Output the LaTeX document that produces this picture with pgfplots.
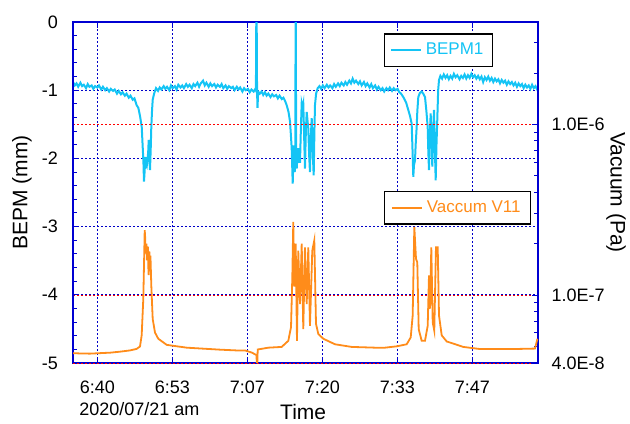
\documentclass[border=0pt]{standalone}
\usepackage{pgfplots}
\pgfplotsset{compat=1.18}
\usepackage{fontspec}
\setmainfont{Liberation Sans}
\definecolor{frameblue}{RGB}{0,0,210}
\definecolor{gridblue}{RGB}{0,0,200}
\definecolor{gridred}{RGB}{255,0,0}
\definecolor{bepm}{RGB}{20,196,245}
\definecolor{vac}{RGB}{255,140,26}

\pgfplotstableread{
t b
-4.32 -0.88
-4.0 -0.93
-3.7 -0.90
-3.4 -0.95
-3.0 -0.89
-2.7 -0.94
-2.4 -0.92
-2.0 -0.97
-1.7 -0.91
-1.4 -0.95
-1.0 -0.93
-0.7 -0.98
-0.4 -0.94
0.0 -0.96
0.3 -0.93
0.7 -0.99
1.0 -0.95
1.4 -1.00
1.7 -0.97
2.1 -1.02
2.4 -0.98
2.8 -1.01
3.1 -0.99
3.5 -1.05
3.8 -1.01
4.2 -1.06
4.5 -1.03
4.9 -1.08
5.2 -1.05
5.6 -1.11
5.9 -1.08
6.3 -1.14
6.6 -1.12
7.0 -1.22
7.3 -1.26
7.6 -1.38
7.9 -1.54
8.07 -1.83
8.2 -2.05
8.3 -2.34
8.42 -2.18
8.53 -1.98
8.65 -2.10
8.78 -2.12
8.95 -2.00
9.05 -1.90
9.14 -1.73
9.25 -2.00
9.37 -2.17
9.5 -1.85
9.6 -1.54
9.73 -1.30
9.85 -1.14
10.1 -1.05
10.44 -0.97
10.8 -1.01
11.1 -0.96
11.4 -0.99
11.8 -0.94
12.1 -0.98
12.4 -0.95
12.8 -1.00
13.1 -0.93
13.4 -0.97
13.8 -0.94
14.1 -0.99
14.4 -0.92
14.8 -0.96
15.1 -0.93
15.4 -0.97
15.8 -0.91
16.1 -0.95
16.4 -0.92
16.8 -0.97
17.1 -0.91
17.4 -0.94
17.8 -0.89
18.1 -0.95
18.4 -0.90
18.8 -0.86
19.1 -0.93
19.4 -0.89
19.8 -0.95
20.1 -0.90
20.4 -0.94
20.8 -0.91
21.1 -0.96
21.4 -0.92
21.8 -0.95
22.1 -0.91
22.4 -0.97
22.8 -0.93
23.1 -0.98
23.4 -0.94
23.8 -0.97
24.1 -0.95
24.4 -1.00
24.8 -0.95
25.1 -0.99
25.4 -0.96
25.8 -1.02
26.1 -0.97
26.4 -1.00
26.8 -0.98
27.1 -1.03
27.4 -0.99
27.8 -1.02
28.1 -0.98
28.2 -1.00
28.30 0.6
28.40 -1.0
28.48 -1.26
28.6 -1.02
28.9 -1.05
29.2 -1.02
29.5 -1.07
29.8 -1.03
30.1 -1.08
30.4 -1.05
30.8 -1.10
31.1 -1.06
31.4 -1.09
31.8 -1.07
32.1 -1.12
32.4 -1.08
32.8 -1.13
33.1 -1.11
33.4 -1.16
33.67 -1.22
34.0 -1.32
34.26 -1.46
34.45 -1.70
34.56 -1.85
34.74 -2.37
34.85 -2.05
34.97 -1.81
35.1 -2.20
35.2 -1.95
35.27 0.6
35.35 -1.80
35.45 -2.15
35.6 -1.95
35.73 -1.85
35.9 -2.05
36.04 -2.05
36.2 -1.55
36.34 -1.19
36.5 -1.25
36.62 -1.20
36.78 -1.70
36.92 -2.15
37.08 -1.60
37.23 -1.32
37.38 -1.45
37.51 -1.56
37.66 -1.95
37.81 -2.20
37.95 -1.70
38.12 -1.41
38.3 -1.90
38.47 -2.25
38.6 -1.60
38.70 -1.22
38.9 -1.05
39.18 -0.97
39.5 -0.94
39.8 -0.98
40.1 -0.93
40.4 -0.97
40.8 -0.92
41.1 -0.96
41.4 -0.93
41.8 -0.97
42.1 -0.91
42.4 -0.95
42.8 -0.90
43.1 -0.94
43.4 -0.89
43.8 -0.93
44.1 -0.88
44.4 -0.92
44.8 -0.86
45.1 -0.90
45.4 -0.83
45.7 -0.89
46.0 -0.86
46.4 -0.91
46.7 -0.87
47.0 -0.93
47.4 -0.88
47.7 -0.94
48.0 -0.90
48.4 -0.96
48.7 -0.91
49.0 -0.97
49.4 -0.93
49.7 -0.99
50.0 -0.95
50.4 -1.00
50.7 -0.97
51.0 -1.02
51.4 -0.97
51.7 -1.00
52.0 -0.96
52.4 -1.01
52.7 -0.97
53.0 -1.00
53.4 -0.98
53.7 -1.03
54.0 -1.05
54.4 -1.10
54.9 -1.18
55.29 -1.29
55.6 -1.38
55.89 -1.49
56.05 -1.90
56.18 -2.27
56.3 -2.10
56.48 -2.03
56.6 -1.80
56.78 -1.54
56.9 -1.30
57.07 -1.10
57.35 -1.04
57.67 -1.02
57.95 -1.05
58.26 -1.10
58.5 -1.30
58.74 -1.54
58.85 -1.90
58.97 -2.17
59.1 -1.70
59.27 -1.34
59.4 -1.70
59.56 -2.12
59.7 -1.60
59.86 -1.29
60.0 -1.80
60.16 -2.32
60.3 -1.80
60.44 -1.44
60.6 -1.00
60.75 -0.85
61.0 -0.79
61.3 -0.83
61.6 -0.77
61.9 -0.82
62.2 -0.78
62.5 -0.84
62.8 -0.79
63.1 -0.83
63.4 -0.76
63.7 -0.81
64.0 -0.78
64.4 -0.84
64.7 -0.79
65.0 -0.82
65.3 -0.77
65.6 -0.83
65.9 -0.78
66.2 -0.82
66.5 -0.76
66.8 -0.81
67.1 -0.78
67.4 -0.83
67.7 -0.79
68.0 -0.84
68.3 -0.80
68.6 -0.88
68.9 -0.81
69.2 -0.85
69.5 -0.80
69.8 -0.86
70.1 -0.82
70.4 -0.88
70.7 -0.83
71.0 -0.87
71.3 -0.84
71.6 -0.90
71.9 -0.85
72.2 -0.89
72.5 -0.86
72.8 -0.92
73.1 -0.87
73.4 -0.91
73.7 -0.88
74.0 -0.93
74.3 -0.89
74.6 -0.95
74.9 -0.90
75.2 -0.94
75.5 -0.91
75.8 -0.97
76.1 -0.92
76.4 -0.96
76.7 -0.93
77.0 -0.98
77.3 -0.92
77.6 -0.97
77.9 -0.94
78.2 -0.99
78.35 -0.95
}\bepmdata

\pgfplotstableread{
t p
-4.32 4.57e-8
-3.0 4.55e-8
-1.3 4.54e-8
0.5 4.57e-8
2.3 4.60e-8
4.0 4.66e-8
5.8 4.74e-8
7.0 4.84e-8
7.59 5.0e-8
7.89 5.81e-8
8.18 9.55e-8
8.43 2.40e-7
8.5 2.2e-7
8.6 1.75e-7
8.66 1.87e-7
8.75 2.0e-7
8.85 1.6e-7
8.89 1.9e-7
9.0 1.9e-7
9.1 1.35e-7
9.14 1.31e-7
9.25 1.8e-7
9.37 1.5e-7
9.45 1.7e-7
9.60 1.14e-7
9.85 7.24e-8
10.26 6.03e-8
10.84 5.55e-8
12.34 5.11e-8
15.89 4.92e-8
21.81 4.79e-8
24.78 4.74e-8
26.26 4.74e-8
27.5 4.6e-8
28.30 4.45e-8
28.35 4.04e-8
28.45 4.04e-8
28.52 4.80e-8
30.40 4.92e-8
32.78 4.97e-8
33.96 5.40e-8
34.44 6.49e-8
34.67 1.27e-7
34.84 2.68e-7
35.02 1.12e-7
35.27 2.0e-7
35.50 5.40e-8
35.73 1.82e-7
36.04 8.87e-8
36.34 2.0e-7
36.62 6.31e-8
36.92 1.905e-7
37.23 8.87e-8
37.51 1.905e-7
37.81 6.61e-8
38.22 1.82e-7
38.58 2.09e-7
38.88 6.79e-8
39.29 5.92e-8
40.18 5.55e-8
42.26 5.15e-8
45.23 4.97e-8
49.37 4.92e-8
51.15 4.92e-8
53.23 5.01e-8
55.0 5.15e-8
55.72 5.65e-8
56.07 7.59e-8
56.36 2.51e-7
56.66 1.63e-7
56.89 1.556e-7
57.14 6.31e-8
57.67 5.40e-8
58.26 5.40e-8
58.74 6.61e-8
58.97 1.306e-7
59.15 8.32e-8
59.38 1.905e-7
59.63 6.92e-8
59.91 6.19e-8
60.21 1.905e-7
60.52 1.905e-7
60.75 7.59e-8
61.23 5.81e-8
62.12 5.35e-8
65.07 4.97e-8
68.04 4.83e-8
73.96 4.83e-8
77.81 4.86e-8
78.25 5.55e-8
}\vacdata

\begin{document}
\begin{tikzpicture}
\path[use as bounding box] (0,0) rectangle (315pt,211.5pt);
\begin{axis}[
  at={(36.5pt,30pt)}, anchor=south west,
  scale only axis, width=232.5pt, height=170.5pt,
  xmin=-4.32, xmax=78.35, ymin=-5, ymax=0,
  xtick={0,13.3333,26.6667,40,53.3333,66.6667},
  xticklabels={6:40,6:53,7:07,7:20,7:33,7:47},
  minor x tick num=3,
  ytick={-5,-4,-3,-2,-1,0},
  yticklabels={-5,-4,-3,-2,-1,0},
  minor y tick num=4,
  xtick pos=both, ytick pos=left,
  tick align=inside,
  major tick length=3pt, minor tick length=2pt,
  every tick/.style={frameblue, line width=0.5pt},
  axis line style={frameblue, line width=1.1pt},
  xmajorgrids, ymajorgrids,
  major grid style={gridblue, line width=0.5pt, dash pattern=on 1pt off 1pt},
  tick label style={font=\fontsize{9}{10}\selectfont, text=black},
  xticklabel style={anchor=base, yshift=-15pt},
  yticklabel style={anchor=east, xshift=-4pt},
  xlabel={Time}, ylabel={BEPM (mm)},
  every axis x label/.style={at={(axis description cs:0.495,-0.145)}, anchor=center, inner sep=0pt, font=\fontsize{10.5}{12}\selectfont},
  every axis y label/.style={at={(axis description cs:-0.11,0.5)}, anchor=center, rotate=90, inner sep=0pt, font=\fontsize{10.5}{12}\selectfont},
  legend style={at={(rel axis cs:0.669,0.967)}, anchor=north west, draw=black, line width=0.7pt, fill=white,
    font=\fontsize{8.5}{10}\selectfont, inner xsep=2.5pt, inner ysep=2.5pt},
  legend image code/.code={\draw[#1, line width=1pt] (0pt,0pt) -- (15pt,0pt);},
]
\addplot[bepm, line width=1pt] table[x=t, y=b] {\bepmdata};
\addlegendentry{\textcolor{bepm}{BEPM1}}
\end{axis}
\begin{axis}[
  at={(36.5pt,30pt)}, anchor=south west,
  scale only axis, width=232.5pt, height=170.5pt,
  xmin=-4.32, xmax=78.35,
  ymode=log, ymin=4e-8, ymax=3.98e-6,
  hide x axis,
  ytick={4e-8,1e-7,1e-6},
  yticklabels={4.0E-8,1.0E-7,1.0E-6},
  minor ytick={5e-8,6e-8,7e-8,8e-8,9e-8,2e-7,3e-7,4e-7,5e-7,6e-7,7e-7,8e-7,9e-7,2e-6,3e-6},
  ytick pos=right,
  tick align=inside,
  major tick length=3pt, minor tick length=2pt,
  every tick/.style={frameblue, line width=0.5pt},
  axis line style={frameblue, line width=1.1pt},
  ymajorgrids,
  major grid style={gridred, line width=0.5pt, dash pattern=on 1pt off 1pt},
  tick label style={font=\fontsize{9}{10}\selectfont, text=black},
  yticklabel style={anchor=west, xshift=3.3pt},
  ylabel={Vacuum (Pa)},
  every axis y label/.style={at={(axis description cs:1.168,0.5)}, anchor=center, rotate=-90, inner sep=0pt, font=\fontsize{10.5}{12}\selectfont},
  legend style={at={(rel axis cs:0.669,0.505)}, anchor=north west, draw=black, line width=0.7pt, fill=white,
    font=\fontsize{8.5}{10}\selectfont, inner xsep=3pt, inner ysep=2.5pt},
  legend image code/.code={\draw[#1, line width=1pt] (0pt,0pt) -- (15pt,0pt);},
]
\addplot[vac, line width=0.9pt] table[x=t, y=p] {\vacdata};
\addlegendentry{\textcolor{vac}{Vaccum V11}}
\end{axis}
\node[anchor=base west, inner sep=0pt, font=\fontsize{9}{10}\selectfont] at (39.5pt,4pt) {2020/07/21 am};
\end{tikzpicture}
\end{document}
